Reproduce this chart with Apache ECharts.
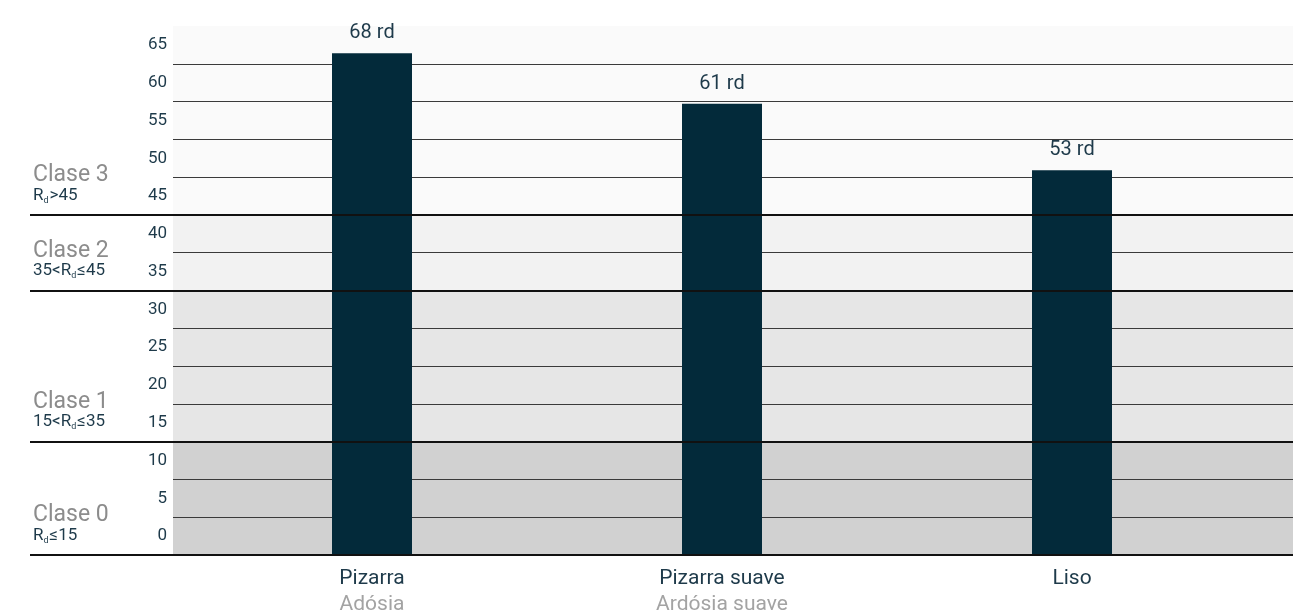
<!DOCTYPE html>
<html>
<head>
<meta charset="utf-8">
<script src="https://cdn.jsdelivr.net/npm/echarts@6/dist/echarts.min.js"></script>
<style>
    html, body { margin: 0; padding: 0; background: #fff; }
    #chartBar { width: 1293px; height: 613px; }
</style>
</head>
<body>
<div id="chartBar"></div>
<script>
// datos
const categories = ['Pizarra', 'Pizarra suave', 'Liso'];
const subCategories = ['Adósia', 'Ardósia suave', ''];
const barLabels = ['68 rd', '61 rd', '53 rd'];
const barHeights = [66.4, 59.7, 50.9];
const yTicks = ['0', '5', '10', '15', '20', '25', '30', '35', '40', '45', '50', '55', '60', '65'];
const classNames = ['Clase 0', 'Clase 1', 'Clase 2', 'Clase 3'];
const classRanges = [
    '{r|R}{d|d}{r|≤15}',
    '{r|15<R}{d|d}{r|≤35}',
    '{r|35<R}{d|d}{r|≤45}',
    '{r|R}{d|d}{r|>45}',
];
const classBounds = [[0, 15], [15, 35], [35, 45], [45, 70]];
const classColors = ['#d1d1d1', '#e6e6e6', '#f2f2f2', '#fafafa'];

const DARK = '#1e3a4a';
const FONT = 'Roboto';
const TOP = 26;
const BOTTOM = 58;

// colores de bandas cada 5 unidades
const bandColors = [];
for (let v = 0; v < 70; v += 5) {
    const idx = classBounds.findIndex((b) => v >= b[0] && v < b[1]);
    bandColors.push(classColors[idx]);
}

const chart = echarts.init(document.getElementById('chartBar'));

const option = {
    animation: false,
    textStyle: { fontFamily: FONT },
    grid: [
        { left: 173, right: 0, top: TOP, bottom: BOTTOM, outerBoundsMode: 'none', containLabel: false }, // fondo
        { left: 197, right: 46, top: TOP, bottom: BOTTOM, outerBoundsMode: 'none', containLabel: false }, // barras
        { left: 30, right: 0, top: TOP, bottom: BOTTOM, outerBoundsMode: 'none', containLabel: false }, // líneas gruesas
    ],
    xAxis: [
        { gridIndex: 0, type: 'value', min: 0, max: 1, show: false },
        {
            gridIndex: 1,
            type: 'category',
            data: categories,
            axisLine: { show: false },
            axisTick: { show: false },
            axisLabel: {
                interval: 0,
                margin: 11,
                formatter: (value, index) => `{a|${value}}\n{b|${subCategories[index]}}`,
                rich: {
                    a: { fontFamily: FONT, fontSize: 21, color: DARK, lineHeight: 26 },
                    b: { fontFamily: FONT, fontSize: 21, color: '#a3a3a3', lineHeight: 26 },
                },
            },
        },
        { gridIndex: 2, type: 'value', min: 0, max: 1, show: false },
    ],
    yAxis: [
        {
            gridIndex: 0,
            type: 'value',
            min: 0,
            max: 70,
            interval: 5,
            axisLabel: { show: false },
            axisLine: { show: false },
            axisTick: { show: false },
            splitLine: {
                show: true,
                showMaxLine: false,
                lineStyle: { color: '#3a3a3a', width: 1 },
            },
            splitArea: { show: true, areaStyle: { color: bandColors } },
        },
        {
            gridIndex: 0,
            type: 'category',
            data: yTicks,
            position: 'left',
            axisLine: { show: false },
            axisTick: { show: false },
            splitLine: { show: false },
            axisLabel: { margin: 6, fontSize: 17, color: DARK, fontFamily: FONT },
        },
        { gridIndex: 1, type: 'value', min: 0, max: 70, show: false },
        { gridIndex: 2, type: 'value', min: 0, max: 70, show: false },
    ],
    series: [
        {
            type: 'bar',
            xAxisIndex: 1,
            yAxisIndex: 2,
            barWidth: 80,
            z: 3,
            itemStyle: { color: '#032a3a' },
            label: {
                show: true,
                position: 'top',
                distance: 10,
                fontSize: 20,
                color: DARK,
                fontFamily: FONT,
                formatter: (p) => barLabels[p.dataIndex],
            },
            data: barHeights,
        },
        {
            type: 'line',
            xAxisIndex: 2,
            yAxisIndex: 3,
            data: [],
            z: 10,
            silent: true,
            markLine: {
                silent: true,
                symbol: 'none',
                label: { show: false },
                lineStyle: { color: '#111', width: 2, type: 'solid' },
                data: classBounds.map((b) => ({ yAxis: b[0] })),
            },
        },
    ],
};

chart.setOption(option);

// etiquetas de clase a la izquierda
const graphics = [];
classBounds.forEach((b, i) => {
    const y = chart.convertToPixel({ yAxisIndex: 3 }, b[0]);
    graphics.push({
        type: 'text',
        left: 33,
        top: y - 51,
        style: {
            text: classNames[i],
            fill: '#8c8c8c',
            font: `23px ${FONT}`,
        },
    });
    graphics.push({
        type: 'text',
        left: 33,
        top: y - 28,
        style: {
            text: classRanges[i],
            rich: {
                r: { fontFamily: FONT, fontSize: 17, fill: DARK, lineHeight: 19 },
                d: { fontFamily: FONT, fontSize: 9, fill: DARK, lineHeight: 19, verticalAlign: 'bottom', padding: [7, 1, 0, 0] },
            },
        },
    });
});
chart.setOption({ graphic: graphics });
</script>
</body>
</html>
